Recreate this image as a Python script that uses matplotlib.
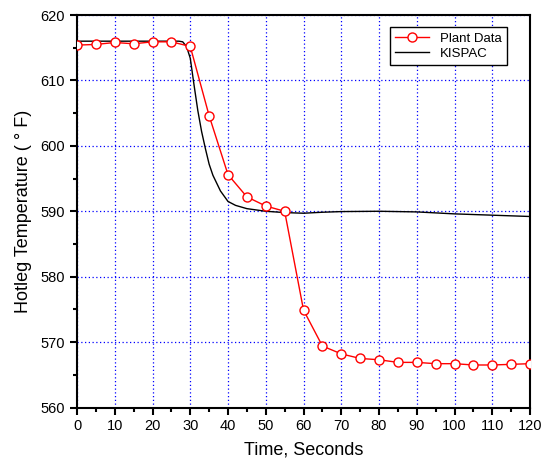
import matplotlib
matplotlib.use('Agg')
import matplotlib.pyplot as plt
from matplotlib.ticker import MultipleLocator

plt.rcParams['font.family'] = ['Liberation Sans', 'DejaVu Sans']

# Plant data, every 5 s
plant_t = [0, 5, 10, 15, 20, 25, 30, 35, 40, 45, 50, 55, 60,
           65, 70, 75, 80, 85, 90, 95, 100, 105, 110, 115, 120]
plant_T = [615.4, 615.5, 615.8, 615.6, 615.9, 615.9, 615.2, 604.6, 595.6,
           592.2, 590.8, 590.0, 574.9, 569.4, 568.2, 567.5, 567.3, 566.9,
           566.9, 566.7, 566.7, 566.5, 566.5, 566.6, 566.7]

# KISPAC simulation
kis_t = [0, 10, 20, 27, 28, 29, 30, 31, 32, 33, 34, 35, 36, 38, 40, 42,
         45, 50, 55, 60, 65, 70, 80, 90, 100, 110, 120]
kis_T = [616.0, 616.0, 616.0, 616.0, 615.9, 615.2, 613.4, 609.3, 605.4,
         602.2, 599.6, 597.2, 595.5, 593.1, 591.5, 590.9, 590.4, 590.0,
         589.8, 589.7, 589.85, 589.95, 590.0, 589.9, 589.6, 589.4, 589.2]

fig = plt.figure(figsize=(5.45, 4.69), dpi=100)
ax = fig.add_axes([0.1413, 0.1311, 0.8312, 0.8369])

ax.plot(plant_t, plant_T, '-', color='red', lw=1, marker='o', ms=6.5,
        mfc='white', mec='red', mew=1, label='Plant Data', zorder=3)
ax.plot(kis_t, kis_T, '-', color='black', lw=1, label='KISPAC', zorder=2)

ax.set_xlim(0, 120)
ax.set_ylim(560, 620)
ax.xaxis.set_major_locator(MultipleLocator(10))
ax.xaxis.set_minor_locator(MultipleLocator(5))
ax.yaxis.set_major_locator(MultipleLocator(10))
ax.yaxis.set_minor_locator(MultipleLocator(5))

ax.grid(True, which='major', color='blue', ls=(0, (1, 2)), lw=0.9)
ax.tick_params(which='major', direction='out', length=5, width=1.5,
               labelsize=10.5, top=False, right=False)
ax.tick_params(which='minor', direction='out', length=3, width=1.5,
               top=False, right=False)
for s in ax.spines.values():
    s.set_linewidth(1.5)

ax.set_xlabel('Time, Seconds', fontsize=13, labelpad=6)
ax.set_ylabel('Hotleg Temperature ( ° F)', fontsize=13, labelpad=6)

leg = ax.legend(loc='upper right', bbox_to_anchor=(0.949, 0.969), fontsize=9.5,
                fancybox=False, edgecolor='black', framealpha=1,
                borderaxespad=0, handlelength=2.6, borderpad=0.4,
                labelspacing=0.2)
leg.get_frame().set_linewidth(1)

fig.savefig('out.png', dpi=100)
